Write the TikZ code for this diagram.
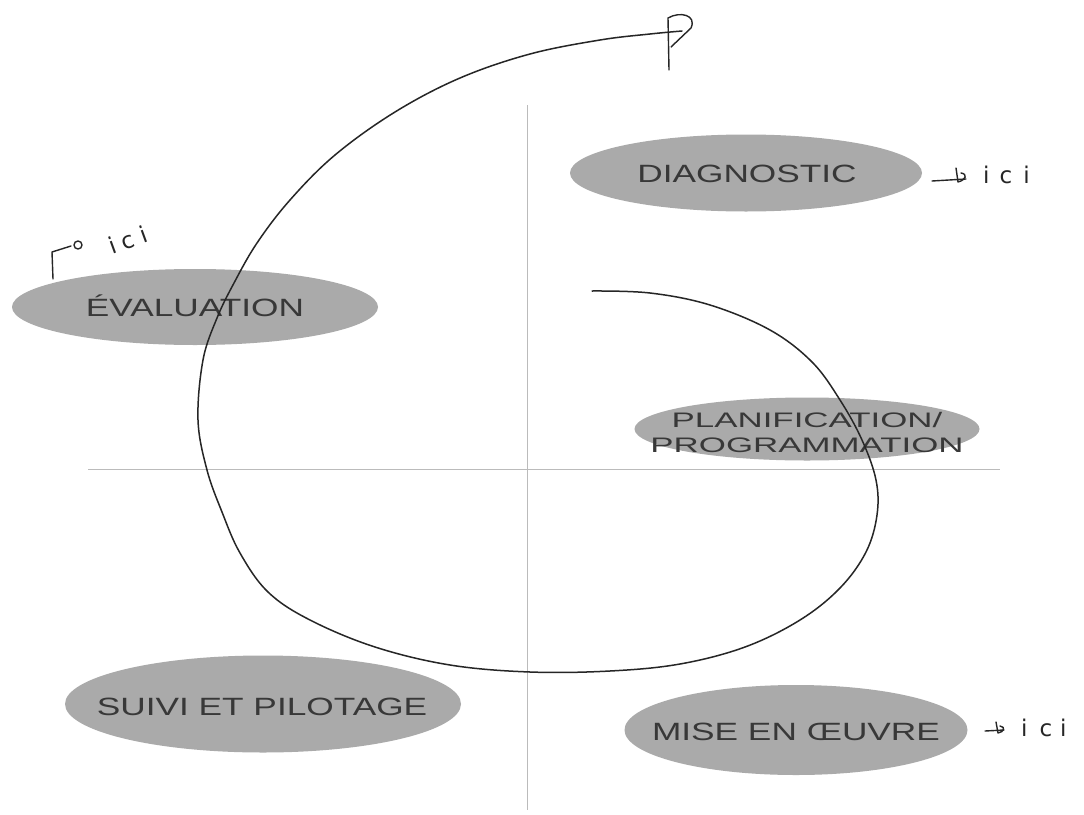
\documentclass[tikz,border=0pt]{standalone}
\usepackage{fontspec}
\setmainfont{Liberation Sans}
\newfontfamily\labfont[FakeStretch=1.41]{Liberation Sans}
\newfontfamily\labfontb[FakeStretch=1.66]{Liberation Sans}
\newfontfamily\handfont{DejaVu Sans}
\usetikzlibrary{shapes.geometric}
\definecolor{blobgray}{HTML}{AAAAAA}
\definecolor{txtgray}{HTML}{383838}
\definecolor{axisgray}{HTML}{BBBBBB}
\definecolor{pen}{HTML}{262626}
\begin{document}
\begin{tikzpicture}[x=1pt,y=-1pt,
  blob/.style={ellipse, fill=blobgray, draw=none, inner sep=0pt},
  lbl/.style={inner sep=0pt, text=txtgray, font=\labfont\fontsize{25}{25}\selectfont, text height=17.9pt, text depth=0pt},
  lblb/.style={inner sep=0pt, text=txtgray, font=\labfontb\fontsize{21}{21}\selectfont, text height=15pt, text depth=0pt},
  axis/.style={draw=axisgray, line width=0.9pt},
  spiral/.style={draw=pen, line width=1.5pt, line cap=round, line join=round},
  hand/.style={draw=pen, line width=1.4pt, line cap=round, line join=round},
  handtxt/.style={inner sep=0pt, text=pen, font=\handfont\fontsize{23}{23}\selectfont}
]
\useasboundingbox[fill=white] (0,0) rectangle (1084,814);

% axes
\coordinate (vt) at (527,105);
\coordinate (vb) at (527,810);
\coordinate (hl) at (88,469);
\coordinate (hr) at (1000,469);
\draw[axis] (vt) -- (vb);
\draw[axis] (hl) -- (hr);

% ellipses
\node[blob, minimum width=352pt, minimum height=77pt] (diag) at (746,173) {};
\node[blob, minimum width=366pt, minimum height=76pt] (eval) at (195,307) {};
\node[blob, minimum width=345pt, minimum height=63pt] (plan) at (807,429) {};
\node[blob, minimum width=396pt, minimum height=97pt] (suivi) at (263,704) {};
\node[blob, minimum width=343pt, minimum height=90pt] (mise) at (796,730) {};

% labels
\node[lbl] (tdiag) at (747,174) {DIAGNOSTIC};
\node[lbl] (teval) at (195,308) {ÉVALUATION};
\node[lblb] (tplan1) at (807,420) {PLANIFICATION/};
\node[lblb] (tplan2) at (807,445) {PROGRAMMATION};
\node[lbl] (tsuivi) at (262,707) {SUIVI ET PILOTAGE};
\node[lbl] (tmise) at (796,732) {MISE EN ŒUVRE};

% spiral
\draw[spiral] plot[smooth, tension=0.6] coordinates {
 (592,291) (650,293) (710,305) (770,330) (812,362) (840,400) (862,440)
 (876,480) (877,515) (866,552) (840,588) (800,620) (745,647) (680,664)
 (610,671) (530,672) (450,665) (375,647) (310,620) (268,592) (240,553)
 (222,512) (207,470) (198,420) (203,360) (217,318) (234,283) (257,243)
 (290,200) (335,155) (395,112) (460,78) (530,54) (600,40) (650,34) (682,31)};
% P mark at the end
\draw[hand] (669,70) -- (668,18) .. controls (680,11) and (697,15) .. (691,28) -- (671,47);

% handwritten notes
\draw[hand] (932,181) -- (966,179);
\draw[hand] (956,168) -- (958,182) .. controls (966,180) and (968,174) .. (961,173);
\node[handtxt, anchor=base west] (ici1) at (983,183) {i\kern10pt c\kern11pt i};

\draw[hand] (985,731) -- (1004,730);
\draw[hand] (996,722) -- (998,733) .. controls (1004,732) and (1006,727) .. (1000,726);
\node[handtxt, anchor=base west] (ici2) at (1021,736) {i\kern12pt c\kern8pt i};

\draw[hand] (53,279) -- (52,252) -- (71,246);
\draw[hand] (78,245) circle (4);
\node[handtxt, rotate=20] (ici3) at (128,240) {i\kern7pt c\kern7pt i};
\end{tikzpicture}
\end{document}
